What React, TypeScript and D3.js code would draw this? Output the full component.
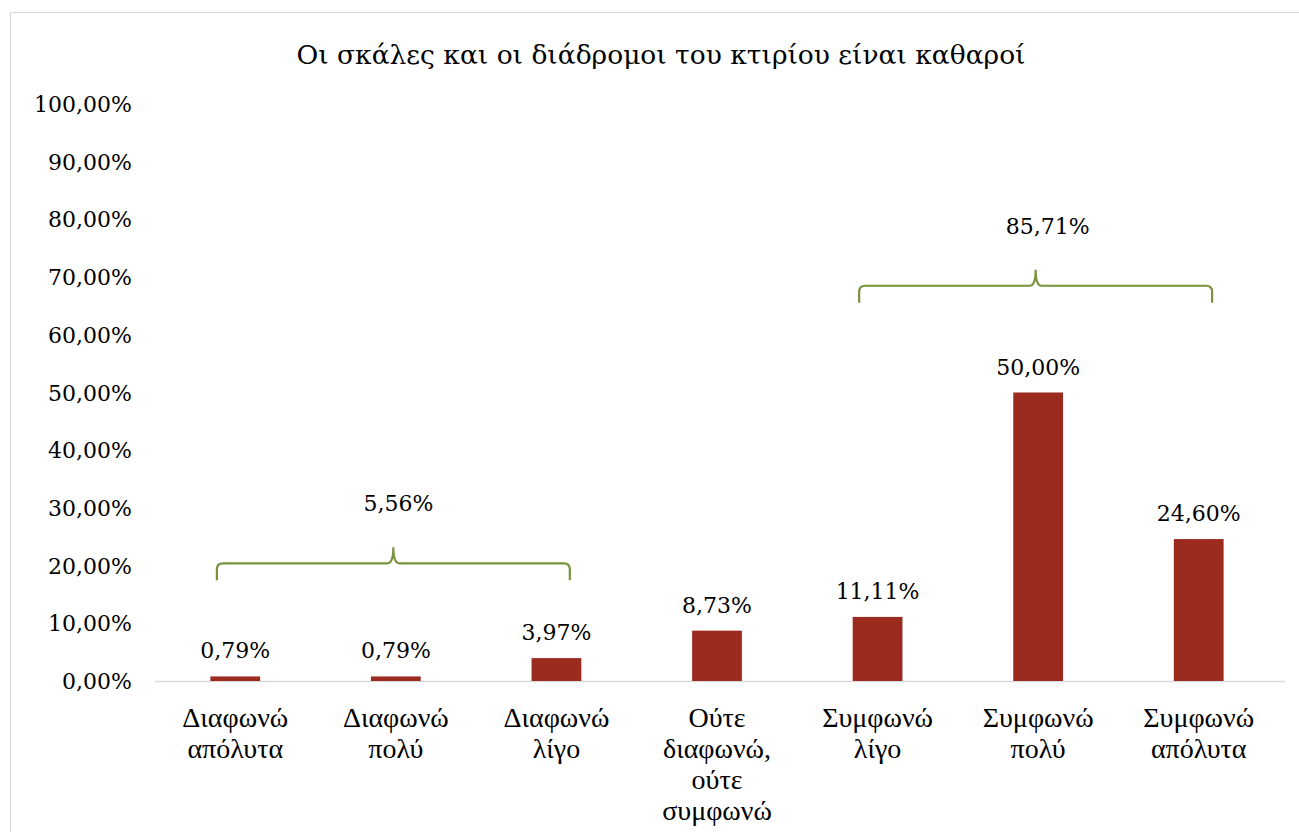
import React from "react";
import * as d3 from "d3";

const categories = [
  ["Διαφωνώ", "απόλυτα"],
  ["Διαφωνώ", "πολύ"],
  ["Διαφωνώ", "λίγο"],
  ["Ούτε", "διαφωνώ,", "ούτε", "συμφωνώ"],
  ["Συμφωνώ", "λίγο"],
  ["Συμφωνώ", "πολύ"],
  ["Συμφωνώ", "απόλυτα"],
];
const values = [0.79, 0.79, 3.97, 8.73, 11.11, 50.0, 24.6];
const yTicks = [0, 10, 20, 30, 40, 50, 60, 70, 80, 90, 100];
const groupStart = [0, 4];
const groupEnd = [2, 6];
const groupLabels = ["5,56%", "85,71%"];
const groupLevel = [20.4, 68.5];
const groupLabelDx = [5, 12];
const title = "Οι σκάλες και οι διάδρομοι του κτιρίου είναι καθαροί";

const W = 1299;
const H = 832;
const fmt = (v: number) => v.toFixed(2).replace(".", ",") + "%";

export default function App() {
  const x = d3
    .scaleBand<number>()
    .domain(d3.range(values.length))
    .range([155, 1279])
    .paddingInner(0.69)
    .paddingOuter(0.345);
  const y = d3.scaleLinear().domain([0, 100]).range([681, 104]);
  const serif = "'DejaVu Serif', serif";
  const catFont = "'Liberation Serif', 'Times New Roman', serif";
  const cx = (i: number) => (x(i) as number) + x.bandwidth() / 2;

  return (
    <svg width={W} height={H} style={{ position: "absolute", left: 0, top: 0 }}>
      <rect x={10.5} y={12.5} width={1300} height={830} fill="#fff" stroke="#D9D9D9" />
      <text x={661} y={64} textAnchor="middle" fontFamily={serif} fontSize={26.5} fill="#000">
        {title}
      </text>
      {yTicks.map((t) => (
        <text key={t} x={132} y={y(t) + 8} textAnchor="end" fontFamily={serif} fontSize={22} fill="#000">
          {fmt(t)}
        </text>
      ))}
      <line x1={155} x2={1285} y1={681.5} y2={681.5} stroke="#D9D9D9" strokeWidth={1.5} />
      {values.map((v, i) => (
        <g key={i}>
          <rect x={x(i)} y={y(v)} width={x.bandwidth()} height={y(0) - y(v)} fill="#9C2B1F" />
          <text x={cx(i)} y={y(v) - 18} textAnchor="middle" fontFamily={serif} fontSize={22} fill="#000">
            {fmt(v)}
          </text>
          {categories[i].map((line, k) => (
            <text
              key={k}
              x={cx(i)}
              y={727 + k * 31}
              textAnchor="middle"
              fontFamily={catFont}
              fontSize={28}
              fill="#000"
            >
              {line}
            </text>
          ))}
        </g>
      ))}
      {groupStart.map((s, g) => {
        const x0 = (x(s) as number) + 6.5;
        const x1 = (x(groupEnd[g]) as number) + x.bandwidth() - 11.5;
        const yl = y(groupLevel[g]);
        const mid = (x0 + x1) / 2;
        const r = 6;
        const path = d3.path();
        path.moveTo(x0, yl + 17);
        path.lineTo(x0, yl + r);
        path.quadraticCurveTo(x0, yl, x0 + r, yl);
        path.lineTo(mid - r, yl);
        path.quadraticCurveTo(mid, yl, mid, yl - 16);
        path.quadraticCurveTo(mid, yl, mid + r, yl);
        path.lineTo(x1 - r, yl);
        path.quadraticCurveTo(x1, yl, x1, yl + r);
        path.lineTo(x1, yl + 17);
        return (
          <g key={g}>
            <path d={path.toString()} fill="none" stroke="#77933C" strokeWidth={2.2} />
            <text
              x={mid + groupLabelDx[g]}
              y={yl - 52}
              textAnchor="middle"
              fontFamily={serif}
              fontSize={22}
              fill="#000"
            >
              {groupLabels[g]}
            </text>
          </g>
        );
      })}
    </svg>
  );
}
